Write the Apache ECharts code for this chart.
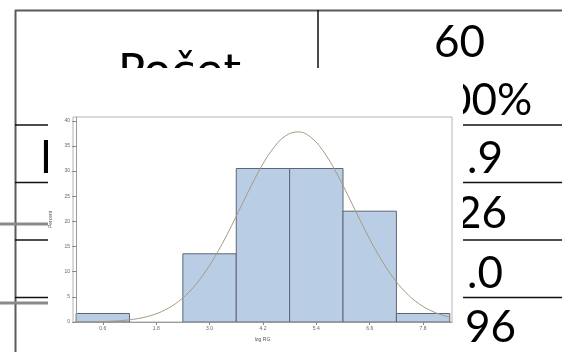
<!DOCTYPE html>
<html>
<head>
<meta charset="utf-8">
<script src="https://cdn.jsdelivr.net/npm/echarts@6/dist/echarts.min.js"></script>
<style>
  html, body { margin: 0; padding: 0; background: #fff; }
  #chart { width: 562px; height: 352px; }
</style>
</head>
<body>
<div id="chart"></div>
<script>
// Histogram bins (centre of each 1.2-wide bin) and their share in percent
const binCenters = [0.6, 1.8, 3.0, 4.2, 5.4, 6.6, 7.8];
const binPercents = [1.69, 0, 13.56, 30.51, 30.51, 22.03, 1.69];
const binWidth = 1.2;

// Fitted normal curve, sampled along log RG
const curveX = [0.2, 0.5, 0.8, 1.1, 1.4, 1.7, 2.0, 2.3, 2.6, 2.9, 3.2, 3.5, 3.8, 4.1, 4.4, 4.7,
                5.0, 5.3, 5.6, 5.9, 6.2, 6.5, 6.8, 7.1, 7.4, 7.7, 8.0, 8.3, 8.4];
const curveY = [0.03, 0.07, 0.17, 0.35, 0.70, 1.34, 2.40, 4.07, 6.53, 9.91, 14.20, 19.24, 24.65, 29.84, 34.15, 36.95,
                37.79, 36.54, 33.39, 28.85, 23.56, 18.19, 13.28, 9.15, 5.97, 3.68, 2.15, 1.18, 0.96];

// Axis ticks
const xTickValues = [0.6, 1.8, 3.0, 4.2, 5.4, 6.6, 7.8];
const yTickValues = [0, 5, 10, 15, 20, 25, 30, 35, 40];

// Summary table behind the histogram
const tableLabels = ['Počet', 'Priemer'];
const tableValues = ['60', '100%', '4.9', '1.26', '5.0', '0.96'];

// layout of the table cells
const rowLineY = [125, 182.5, 240, 297.5];
const valueSplit = [0, 1, 1, 2, 1, 2];          // leading characters kept apart from the rest
const valueLeft = [434, 446, 467, 456, 467, 465];
const valueMid = [42.4, 100.7, 159.1, 213.9, 274.1, 327.4];

const numFont = '44px Lato';
const labelFont = '45px "DejaVu Sans"';

const graphics = [];
// table frame
graphics.push({ type: 'line', z: 0, shape: { x1: 15, y1: 10.5, x2: 562, y2: 10.5 }, style: { stroke: '#5a5a5a', lineWidth: 2 } });
graphics.push({ type: 'line', z: 0, shape: { x1: 15.5, y1: 10, x2: 15.5, y2: 352 }, style: { stroke: '#5a5a5a', lineWidth: 2 } });
graphics.push({ type: 'line', z: 0, shape: { x1: 318, y1: 10, x2: 318, y2: 68 }, style: { stroke: '#111', lineWidth: 1.5 } });
rowLineY.forEach(function (y) {
  graphics.push({ type: 'line', z: 0, shape: { x1: 463, y1: y, x2: 562, y2: y }, style: { stroke: '#111', lineWidth: 1.5 } });
  graphics.push({ type: 'line', z: 0, shape: { x1: 15, y1: y, x2: 48, y2: y }, style: { stroke: '#111', lineWidth: 1.5 } });
});
[224, 303].forEach(function (y) {
  graphics.push({ type: 'line', z: 0, shape: { x1: 0, y1: y, x2: 48, y2: y }, style: { stroke: '#8a8a8a', lineWidth: 3 } });
});
// table text
graphics.push({ type: 'text', z: 0, x: 117.9, y: 74, style: { text: tableLabels[0], font: labelFont, fill: '#000', align: 'left', verticalAlign: 'middle' } });
graphics.push({ type: 'text', z: 0, x: 39.6, y: 161, style: { text: tableLabels[1], font: labelFont, fill: '#000', align: 'left', verticalAlign: 'middle' } });
tableValues.forEach(function (t, i) {
  const head = t.slice(0, valueSplit[i]);
  const tail = t.slice(valueSplit[i]);
  if (head) {
    graphics.push({ type: 'text', z: 0, x: valueLeft[i] - 4, y: valueMid[i], style: { text: head, font: numFont, fill: '#000', align: 'right', verticalAlign: 'middle' } });
  }
  graphics.push({ type: 'text', z: 0, x: valueLeft[i], y: valueMid[i], style: { text: tail, font: numFont, fill: '#000', align: 'left', verticalAlign: 'middle' } });
});
// white panel holding the histogram
graphics.push({ type: 'rect', z: 1, shape: { x: 48, y: 68, width: 415, height: 284 }, style: { fill: '#fff' } });

const chart = echarts.init(document.getElementById('chart'), null, { renderer: 'canvas' });
chart.setOption({
  animation: false,
  backgroundColor: '#fff',
  graphic: { elements: graphics },
  grid: {
    z: 5, left: 73, top: 117, width: 379, height: 205,
    show: true, borderColor: '#b5b5b5', borderWidth: 1, backgroundColor: 'transparent'
  },
  xAxis: {
    type: 'value', z: 5, min: -0.07, max: 8.45,
    name: 'log RG', nameLocation: 'middle', nameGap: 15,
    nameTextStyle: { fontSize: 5, color: '#555', fontFamily: 'Liberation Sans' },
    axisLine: { show: true, lineStyle: { color: '#9a9a9a', width: 1 } },
    axisTick: { show: true, customValues: xTickValues, length: 3, lineStyle: { color: '#888' } },
    axisLabel: { customValues: xTickValues, fontSize: 5, color: '#666', margin: 4, fontFamily: 'Liberation Sans',
      formatter: function (v) { return v.toFixed(1); } },
    splitLine: { show: false }
  },
  yAxis: {
    type: 'value', z: 5, min: 0, max: 40.75,
    name: 'Percent', nameLocation: 'middle', nameGap: 16,
    nameTextStyle: { fontSize: 5, color: '#555', fontFamily: 'Liberation Sans' },
    axisLine: { show: true, lineStyle: { color: '#9a9a9a', width: 1 } },
    axisTick: { show: true, customValues: yTickValues, length: 4, lineStyle: { color: '#888' } },
    axisLabel: { customValues: yTickValues, fontSize: 5, color: '#666', margin: 3, fontFamily: 'Liberation Sans' },
    splitLine: { show: false }
  },
  series: [
    {
      type: 'custom', z: 5,
      data: binCenters.map(function (c, i) { return [c, binPercents[i]]; }),
      encode: { x: 0, y: 1 },
      renderItem: function (params, api) {
        const c = api.value(0), v = api.value(1);
        if (!v) return null;
        const p0 = api.coord([c - binWidth / 2, v]);
        const p1 = api.coord([c + binWidth / 2, 0]);
        return {
          type: 'rect',
          shape: { x: p0[0], y: p0[1], width: p1[0] - p0[0], height: p1[1] - p0[1] },
          style: { fill: '#b9cde5', stroke: '#5d6675', lineWidth: 1 }
        };
      }
    },
    {
      type: 'line', z: 6,
      data: curveX.map(function (x, i) { return [x, curveY[i]]; }),
      smooth: 0.4, showSymbol: false, silent: true,
      lineStyle: { color: '#a89a84', width: 1 }
    }
  ]
});
</script>
</body>
</html>
